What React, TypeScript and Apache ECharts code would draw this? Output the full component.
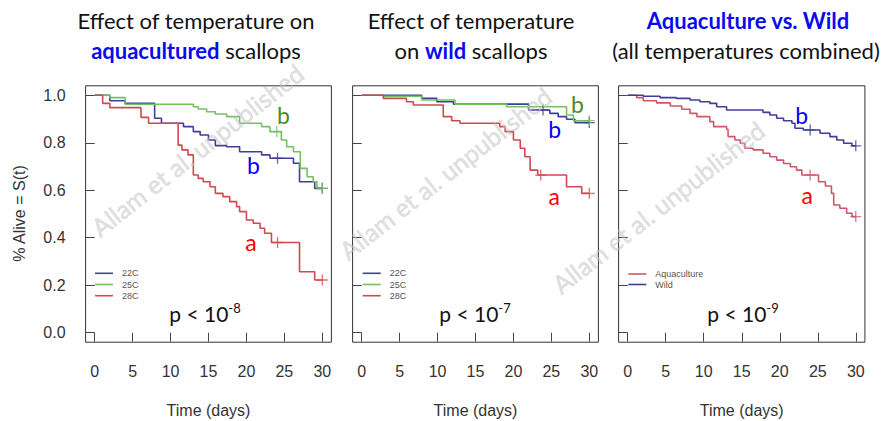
import React, { useEffect, useRef } from 'react';
import * as echarts from 'echarts';

const xTicks = [0, 5, 10, 15, 20, 25, 30];
const yTicks = [0, 0.2, 0.4, 0.6, 0.8, 1.0];

// Panel 1: aquacultured scallops
const aqua22: number[][] = [[0, 1], [2.0, 0.977], [4.0, 0.966], [7.9, 0.903], [8.8, 0.882], [11.7, 0.868], [13.0, 0.847], [13.9, 0.833], [15.0, 0.812], [15.9, 0.788], [17.4, 0.783], [19.1, 0.762], [22.0, 0.749], [23.1, 0.735], [26.2, 0.714], [27.0, 0.636], [29.0, 0.608], [30, 0.608]];
const aqua25: number[][] = [[0, 1], [2.0, 0.99], [4.0, 0.962], [13.0, 0.952], [13.65, 0.942], [14.75, 0.931], [15.9, 0.921], [17.4, 0.91], [19.1, 0.882], [22.0, 0.868], [23.1, 0.847], [24.6, 0.812], [25.3, 0.783], [26.2, 0.762], [27.1, 0.692], [28.0, 0.657], [28.8, 0.636], [29.3, 0.608], [30, 0.608]];
const aqua28: number[][] = [[0, 1], [1.05, 0.966], [2.0, 0.948], [6.1, 0.907], [7.1, 0.882], [11.0, 0.79], [11.5, 0.77], [12.3, 0.749], [13.0, 0.664], [13.65, 0.65], [14.3, 0.636], [15.2, 0.615], [15.9, 0.587], [16.9, 0.573], [17.8, 0.552], [18.7, 0.531], [19.1, 0.51], [20.0, 0.475], [20.9, 0.461], [21.8, 0.44], [22.4, 0.419], [23.3, 0.38], [27.0, 0.257], [29.0, 0.222], [30, 0.222]];
const aqua22Cens: number[][] = [[24.1, 0.735], [30, 0.608]];
const aqua25Cens: number[][] = [[24.0, 0.847], [30, 0.608]];
const aqua28Cens: number[][] = [[24.1, 0.38], [30, 0.222]];

// Panel 2: wild scallops
const wild22: number[][] = [[0, 1], [7.9, 0.987], [9.9, 0.973], [12.1, 0.963], [22.0, 0.938], [24.8, 0.924], [25.9, 0.91], [27.0, 0.899], [28.1, 0.885], [30, 0.885]];
const wild25: number[][] = [[0, 1], [2.85, 0.996], [7.9, 0.98], [12.3, 0.963], [19.1, 0.952], [27.0, 0.917], [27.9, 0.893], [30, 0.893]];
const wild28: number[][] = [[0, 1], [2.85, 0.987], [5.9, 0.973], [6.8, 0.959], [10.75, 0.91], [11.86, 0.893], [12.95, 0.882], [18.2, 0.868], [18.9, 0.847], [20.0, 0.812], [20.9, 0.777], [21.5, 0.741], [22.2, 0.685], [23.2, 0.664], [27.0, 0.615], [29.0, 0.587], [30, 0.587]];
const wild22Cens: number[][] = [[23.9, 0.938], [30, 0.885]];
const wild25Cens: number[][] = [[30, 0.893]];
const wild28Cens: number[][] = [[23.6, 0.664], [30, 0.587]];

// Panel 3: all temperatures combined
const allAqua: number[][] = [[0, 1], [1.18, 0.99], [2.05, 0.977], [3.8, 0.968], [5.6, 0.955], [7.1, 0.941], [8.2, 0.924], [9.1, 0.91], [10.8, 0.889], [11.3, 0.868], [13.0, 0.857], [13.2, 0.826], [14.1, 0.812], [14.8, 0.798], [15.4, 0.777], [16.5, 0.77], [17.8, 0.756], [18.7, 0.741], [19.6, 0.727], [20.5, 0.713], [21.4, 0.699], [22.2, 0.685], [22.9, 0.664], [25.1, 0.636], [26.0, 0.618], [26.8, 0.587], [27.1, 0.538], [27.9, 0.524], [28.8, 0.503], [29.5, 0.489], [30, 0.489]];
const allWild: number[][] = [[0, 1], [2.05, 0.996], [4.25, 0.99], [6.4, 0.987], [8.2, 0.98], [9.5, 0.973], [10.8, 0.966], [11.7, 0.952], [13.0, 0.938], [17.8, 0.928], [18.7, 0.917], [19.6, 0.903], [20.5, 0.893], [21.6, 0.882], [22.0, 0.861], [23.1, 0.854], [25.3, 0.84], [26.6, 0.826], [27.5, 0.812], [28.4, 0.798], [29.5, 0.787], [30, 0.787]];
const allAquaCens: number[][] = [[24.0, 0.664], [30, 0.489]];
const allWildCens: number[][] = [[24.0, 0.854], [30, 0.787]];

const tempNames = ['22C', '25C', '28C'];
const groupNames = ['Aquaculture', 'Wild'];

const C_BLUE = '#3f3f98';
const C_GREEN = '#74c064';
const C_RED = '#cf4a50';
const C_RED3 = '#d0566a';

const PLUS = 'path://M4.4,0H5.6V4.4H10V5.6H5.6V10H4.4V5.6H0V4.4H4.4Z';
const RFONT = 'Liberation Sans, Arial, sans-serif';
const TFONT = 'Lato, Calibri, sans-serif';

export default function App() {
  const ref = useRef<HTMLDivElement>(null);
  useEffect(() => {
    const chart = echarts.init(ref.current!, null, { renderer: 'svg' });
    const gridPos = [
      { left: 85.6, top: 85.8, width: 245.8, height: 256.4 },
      { left: 352.6, top: 85.8, width: 245.8, height: 256.4 },
      { left: 618.6, top: 85.8, width: 246.3, height: 256.4 },
    ];
    const grid = gridPos.map((g) => ({ ...g, show: true, borderColor: '#333', borderWidth: 1, backgroundColor: 'transparent' }));
    const xAxis = gridPos.map((_, i) => ({
      gridIndex: i, type: 'value', min: -1.2, max: 31.2,
      axisLine: { show: false }, splitLine: { show: false },
      axisTick: { show: true, length: 9, customValues: xTicks, lineStyle: { color: '#444' } },
      axisLabel: { customValues: xTicks, margin: 21, fontSize: 16, color: '#333', fontFamily: RFONT },
    }));
    const yAxis = gridPos.map((_, i) => ({
      gridIndex: i, type: 'value', min: -0.04, max: 1.04,
      axisLine: { show: false }, splitLine: { show: false },
      axisTick: { show: true, length: 9, customValues: yTicks, lineStyle: { color: '#444' } },
      axisLabel: { show: i === 0, customValues: yTicks, margin: 20, fontSize: 16, color: '#333', fontFamily: RFONT, formatter: (v: number) => v.toFixed(1) },
    }));
    const curve = (name: string, data: number[][], idx: number, color: string) => ({
      name, type: 'line', step: 'end', data, xAxisIndex: idx, yAxisIndex: idx,
      showSymbol: false, symbol: 'none', lineStyle: { color, width: 1.6 }, itemStyle: { color }, z: 3,
    });
    const cens = (data: number[][], idx: number, color: string) => ({
      type: 'scatter', data, xAxisIndex: idx, yAxisIndex: idx, symbol: PLUS, symbolSize: 11,
      itemStyle: { color }, z: 4,
    });
    const series = [
      curve(tempNames[0], aqua22, 0, C_BLUE), curve(tempNames[1], aqua25, 0, C_GREEN), curve(tempNames[2], aqua28, 0, C_RED),
      cens(aqua22Cens, 0, C_BLUE), cens(aqua25Cens, 0, C_GREEN), cens(aqua28Cens, 0, C_RED),
      curve(tempNames[0], wild22, 1, C_BLUE), curve(tempNames[1], wild25, 1, C_GREEN), curve(tempNames[2], wild28, 1, C_RED),
      cens(wild22Cens, 1, C_BLUE), cens(wild25Cens, 1, C_GREEN), cens(wild28Cens, 1, C_RED),
      curve(groupNames[0], allAqua, 2, C_RED3), curve(groupNames[1], allWild, 2, C_BLUE),
      cens(allAquaCens, 2, C_RED3), cens(allWildCens, 2, C_BLUE),
    ];

    const title = (x: number, y: number, text: string) => ({
      type: 'text', x, y, z: 10,
      style: { text, align: 'center', verticalAlign: 'middle', fontFamily: TFONT, fontSize: 22, fill: '#111',
        rich: { b: { fontFamily: TFONT, fontSize: 22, fontWeight: 'bold', fill: '#0a0aee' } } },
    });
    const letter = (x: number, y: number, text: string, fill: string) => ({
      type: 'text', x, y, z: 10,
      style: { text, align: 'center', verticalAlign: 'middle', fontFamily: TFONT, fontSize: 23, fill },
    });
    const pval = (x: number, y: number, exp: string) => ({
      type: 'text', x, y, z: 10,
      style: { text: `{n|p < 10}{s|${exp}}`, align: 'center', verticalAlign: 'middle',
        rich: { n: { fontFamily: TFONT, fontSize: 21, fill: '#111', lineHeight: 24 },
          s: { fontFamily: TFONT, fontSize: 13, fill: '#111', verticalAlign: 'top', lineHeight: 16 } } },
    });
    const legend = (x: number, y0: number, names: string[], colors: string[], step: number) => {
      const els: any[] = [];
      names.forEach((n, i) => {
        const y = y0 + i * step;
        els.push({ type: 'line', z: 10, shape: { x1: x, y1: y, x2: x + 18, y2: y }, style: { stroke: colors[i], lineWidth: 1.6 } });
        els.push({ type: 'text', z: 10, x: x + 27, y, style: { text: n, fontFamily: RFONT, fontSize: 9, fill: '#555', verticalAlign: 'middle' } });
      });
      return els;
    };
    const wm = (x: number, y: number) => ({
      type: 'text', x, y, rotation: (38 * Math.PI) / 180, z: 20, silent: true,
      style: { text: 'Allam et al. unpublished', align: 'center', verticalAlign: 'middle', fontFamily: TFONT, fontSize: 25,
        fill: 'rgba(200,200,200,0.55)', stroke: 'rgba(170,170,170,0.35)', lineWidth: 0.6 },
    });
    const xname = (x: number) => ({
      type: 'text', x, y: 410.8, z: 10,
      style: { text: 'Time (days)', align: 'center', verticalAlign: 'middle', fontFamily: RFONT, fontSize: 16, fill: '#333' },
    });

    const graphic = [
      title(196, 20, 'Effect of temperature on'),
      title(196, 50, '{b|aquacultured} scallops'),
      title(471, 20, 'Effect of temperature'),
      title(471, 50, 'on {b|wild} scallops'),
      title(748, 20, '{b|Aquaculture vs. Wild}'),
      title(746, 50, '(all temperatures combined)'),
      letter(283.5, 115.3, 'b', '#4e8a2c'),
      letter(253.5, 165.3, 'b', '#0000ff'),
      letter(251, 242.3, 'a', '#ff0000'),
      letter(577.5, 104, 'b', '#4e8a2c'),
      letter(554.7, 129, 'b', '#0000ff'),
      letter(554.3, 195.6, 'a', '#ff0000'),
      letter(801.7, 115, 'b', '#0000ff'),
      letter(807.2, 195, 'a', '#ff0000'),
      pval(205, 313, '-8'),
      pval(475, 313, '-7'),
      pval(743, 313, '-9'),
      ...legend(95, 273.3, tempNames, [C_BLUE, C_GREEN, C_RED], 11.2),
      ...legend(362.7, 273.3, tempNames, [C_BLUE, C_GREEN, C_RED], 11.2),
      ...legend(628.3, 274, groupNames, [C_RED3, C_BLUE], 10.5),
      wm(197, 150),
      wm(445, 173),
      wm(658, 207),
      {
        type: 'text', x: 19, y: 213.5, rotation: Math.PI / 2, z: 10,
        style: { text: '% Alive = S(t)', align: 'center', verticalAlign: 'middle', fontFamily: RFONT, fontSize: 16, fill: '#333' },
      },
      xname(208.5), xname(475.5), xname(741.7),
    ];

    chart.setOption({ animation: false, backgroundColor: '#fff', grid, xAxis, yAxis, series, graphic });
    return () => chart.dispose();
  }, []);
  return <div ref={ref} style={{ position: 'absolute', left: 0, top: 0, width: 888, height: 421, background: '#fff' }} />;
}
